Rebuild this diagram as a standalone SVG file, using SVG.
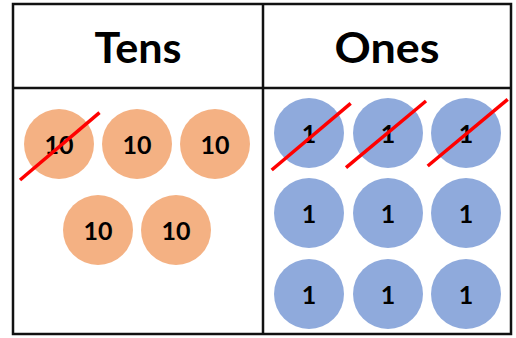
<svg xmlns="http://www.w3.org/2000/svg" width="516" height="338" viewBox="0 0 516 338">
<style>
.grid{fill:none;stroke:#111;stroke-width:2.5}
.hdr{font-family:"Lato","Liberation Sans",sans-serif;font-weight:700;font-size:42px;fill:#000;text-anchor:middle}
.num{font-family:"Lato","Liberation Sans",sans-serif;font-weight:700;font-size:25px;fill:#000;text-anchor:middle}
.ten{fill:#F4B183}
.one{fill:#8FAADC}
.cross{stroke:#FF0000;stroke-width:3.5;stroke-linecap:butt}
</style>
<rect width="516" height="338" fill="#fff"/>
<g id="table">
<rect class="grid" x="13" y="4" width="498" height="330"/>
<line class="grid" x1="13" y1="88" x2="511" y2="88"/>
<line class="grid" x1="263" y1="4" x2="263" y2="334"/>
<text class="hdr" x="138" y="63" textLength="87" lengthAdjust="spacingAndGlyphs">Tens</text>
<text class="hdr" x="387" y="63" textLength="105" lengthAdjust="spacingAndGlyphs">Ones</text>
</g>
<g id="tens">
<g id="t1"><circle class="ten" cx="59" cy="144" r="35"/><text class="num" x="59" y="154">10</text></g>
<g id="t2"><circle class="ten" cx="137" cy="144" r="35"/><text class="num" x="137" y="154">10</text></g>
<g id="t3"><circle class="ten" cx="215" cy="144" r="35"/><text class="num" x="215" y="154">10</text></g>
<g id="t4"><circle class="ten" cx="98" cy="230" r="35"/><text class="num" x="98" y="240">10</text></g>
<g id="t5"><circle class="ten" cx="176" cy="230" r="35"/><text class="num" x="176" y="240">10</text></g>
</g>
<g id="ones">
<g id="o1"><circle class="one" cx="309" cy="133" r="35"/><text class="num" x="309" y="143">1</text></g>
<g id="o2"><circle class="one" cx="388" cy="133" r="35"/><text class="num" x="388" y="143">1</text></g>
<g id="o3"><circle class="one" cx="466" cy="133" r="35"/><text class="num" x="466" y="143">1</text></g>
<g id="o4"><circle class="one" cx="309" cy="213" r="35"/><text class="num" x="309" y="223">1</text></g>
<g id="o5"><circle class="one" cx="388" cy="213" r="35"/><text class="num" x="388" y="223">1</text></g>
<g id="o6"><circle class="one" cx="466" cy="213" r="35"/><text class="num" x="466" y="223">1</text></g>
<g id="o7"><circle class="one" cx="309" cy="294" r="35"/><text class="num" x="309" y="304">1</text></g>
<g id="o8"><circle class="one" cx="388" cy="294" r="35"/><text class="num" x="388" y="304">1</text></g>
<g id="o9"><circle class="one" cx="466" cy="294" r="35"/><text class="num" x="466" y="304">1</text></g>
</g>
<g id="crosses">
<line class="cross" x1="20" y1="180" x2="99.5" y2="112.7"/>
<line class="cross" x1="271.7" y1="170" x2="350.7" y2="103.3"/>
<line class="cross" x1="346" y1="167.7" x2="426" y2="101"/>
<line class="cross" x1="427.7" y1="166" x2="507.7" y2="99.3"/>
</g>
</svg>
